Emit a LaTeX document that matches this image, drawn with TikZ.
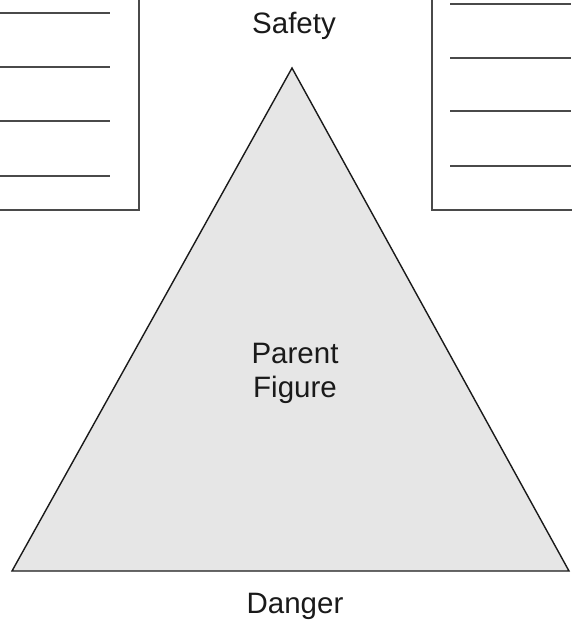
\documentclass[tikz,border=0pt]{standalone}
\usepackage{fontspec}
\setmainfont{Liberation Sans}
\definecolor{trifill}{HTML}{E6E6E6}
\definecolor{boxline}{HTML}{4A4A4A}
\definecolor{ink}{HTML}{1A1A1A}
\begin{document}
\begin{tikzpicture}[x=1pt,y=-1pt,
  label text/.style={font=\fontsize{29.5}{34}\selectfont, text=ink, align=center, inner sep=0pt},
  notebox/.style={draw=boxline, line width=2.6pt, fill=white},
  rule line/.style={draw=boxline, line width=1.8pt}]
\useasboundingbox (0,0) rectangle (571,621);
% note cards, partly cut off at the page edges
\path[notebox] (-10,-10) rectangle (139,210);
\path[notebox] (432,-10) rectangle (581,210);
\foreach \y in {13,67,121,176} \draw[rule line] (0,\y) -- (110,\y);
\foreach \y in {4,58,111,166} \draw[rule line] (450,\y) -- (571,\y);
% triangle
\coordinate (apex) at (292,68);
\coordinate (bl) at (12,571);
\coordinate (br) at (569,571);
\filldraw[fill=trifill, draw=ink, line width=1.4pt, line join=miter] (apex) -- (br) -- (bl) -- cycle;
% labels
\node[label text, anchor=base] (safety) at (294,33) {Safety};
\node[label text, anchor=base] (parent) at (295,397) {Parent\\Figure};
\node[label text, anchor=base] (danger) at (295,613) {Danger};
\end{tikzpicture}
\end{document}
